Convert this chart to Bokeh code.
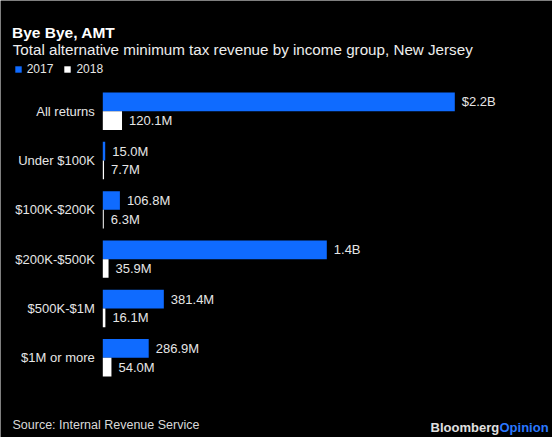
from bokeh.plotting import figure
from bokeh.models import ColumnDataSource, Range1d, Label, Legend, LegendItem
from bokeh.core.properties import value
from bokeh.embed import file_html
from bokeh.resources import INLINE

# ---- data (values in millions of dollars) ----
categories = ["All returns", "Under $100K", "$100K-$200K", "$200K-$500K", "$500K-$1M", "$1M or more"]
amt_2017 = [2200, 15.0, 106.8, 1400, 381.4, 286.9]
amt_2018 = [120.1, 7.7, 6.3, 35.9, 16.1, 54.0]
labels_2017 = ["$2.2B", "15.0M", "106.8M", "1.4B", "381.4M", "286.9M"]
labels_2018 = ["120.1M", "7.7M", "6.3M", "35.9M", "16.1M", "54.0M"]
series_names = ["2017", "2018"]

FONT = "Liberation Sans"
BLUE = "#0F6BFF"
WHITE = "#FFFFFF"
TXT = "#E6E6E6"

W, H = 552, 437
bar_left_px = 102.3      # where the bars start
px_per_m = 0.16          # pixels per million dollars
row_px = 49.28           # pitch of the groups
first_row_px = 110.8     # centre of the first group

n = len(categories)
pos = list(range(n))     # 0 = top row
off = 0.19
hgt = 0.38

src = ColumnDataSource(dict(
    cat=categories, v17=amt_2017, v18=amt_2018, l17=labels_2017, l18=labels_2018,
    y17=[i - off for i in pos], y18=[i + off for i in pos], yc=pos,
    zero=[0] * n,
))

y_top = -first_row_px / row_px
y_bottom = y_top + H / row_px
p = figure(width=W, height=H, output_backend="svg", toolbar_location=None,
           x_range=Range1d(-bar_left_px / px_per_m, (W - bar_left_px) / px_per_m),
           y_range=Range1d(y_bottom, y_top),
           min_border=0, min_border_left=0, min_border_right=0,
           min_border_top=0, min_border_bottom=0)
p.background_fill_color = "black"
p.border_fill_color = "black"
p.outline_line_color = None
p.xgrid.visible = False
p.ygrid.visible = False
p.xaxis.visible = False
p.yaxis.visible = False

r17 = p.hbar(y="y17", right="v17", left=0, height=hgt, source=src,
             color=BLUE, line_color=None)
r18 = p.hbar(y="y18", right="v18", left=0, height=hgt, source=src,
             color=WHITE, line_color=None)

# category labels (left of the bars)
p.text(x="zero", y="yc", text="cat", source=src, x_offset=-8,
       text_baseline="middle", text_align="right",
       text_font=value(FONT), text_font_size="13px", text_color=TXT)

# value labels
p.text(x="v17", y="y17", text="l17", source=src, x_offset=7,
       text_baseline="middle", text_align="left",
       text_font=value(FONT), text_font_size="13px", text_color=TXT)
p.text(x="v18", y="y18", text="l18", source=src, x_offset=7,
       text_baseline="middle", text_align="left",
       text_font=value(FONT), text_font_size="13px", text_color=TXT)

legend = Legend(items=[LegendItem(label=series_names[0], renderers=[r17]),
                       LegendItem(label=series_names[1], renderers=[r18])],
                orientation="horizontal", location=(13.7, H - 76.3),
                glyph_width=8, glyph_height=8, label_height=8, label_standoff=5,
                spacing=10, padding=0, margin=0,
                label_text_font=FONT, label_text_font_size="12px",
                label_text_color=TXT, background_fill_alpha=0, border_line_alpha=0)
p.add_layout(legend)


def lab(text, x, y_from_top, size, bold=False, color=TXT, align="left"):
    p.add_layout(Label(x=x, y=H - y_from_top, x_units="screen", y_units="screen", text=text,
                       text_font=FONT, text_font_size=size,
                       text_font_style="bold" if bold else "normal",
                       text_color=color, text_align=align, text_baseline="alphabetic"))


lab("Bye Bye, AMT", 11.5, 31.7, "15.5px", bold=True, color="#FFFFFF")
lab("Total alternative minimum tax revenue by income group, New Jersey", 12.2, 49.3, "15.2px", color="#EDEDED")
lab("Source: Internal Revenue Service", 12, 424, "12.5px", color="#D9D9D9")
lab("Bloomberg", 498.7, 427, "13px", bold=True, color="#E0E0E0", align="right")
lab("Opinion", 499, 427, "13px", bold=True, color="#2A78FF")

open("out.html", "w").write(file_html(p, INLINE))
